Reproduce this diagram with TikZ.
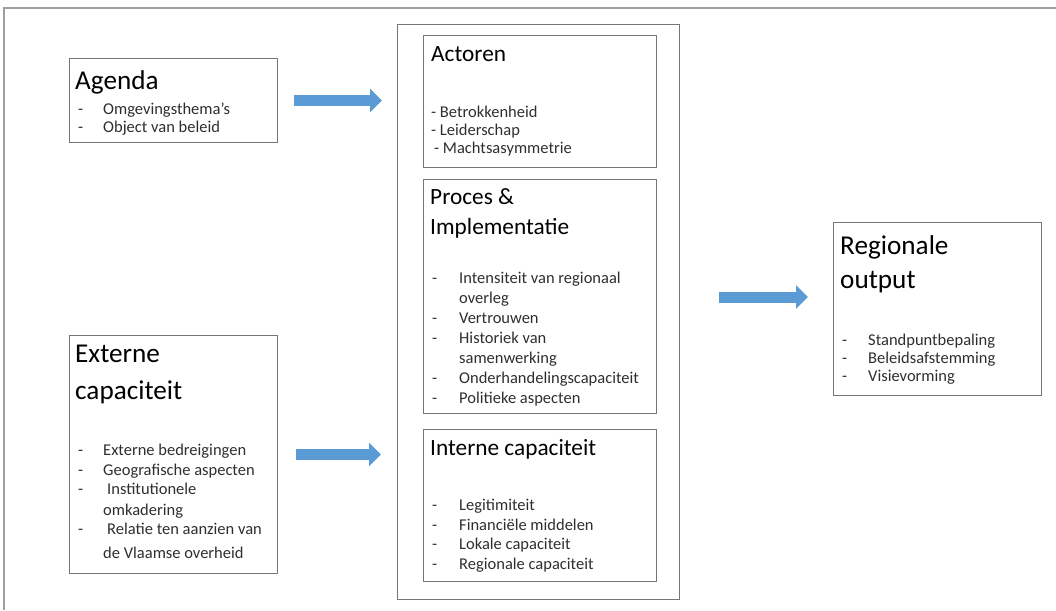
\documentclass[tikz,border=0pt]{standalone}
\usepackage{fontspec}
\setmainfont{Carlito}
\usetikzlibrary{arrows.meta}
\definecolor{pijlblauw}{HTML}{5B9BD5}
\definecolor{lijngrijs}{HTML}{767676}

\begin{document}
\begin{tikzpicture}[x=1pt, y=-1pt,
  kader/.style={draw=lijngrijs, line width=1pt, anchor=north west, inner sep=0pt},
  kop/.style={anchor=base west, inner sep=0pt, font=\fontsize{27.2}{33}\selectfont},
  kopm/.style={anchor=base west, inner sep=0pt, font=\fontsize{23.3}{28}\selectfont},
  item/.style={anchor=base west, inner sep=0pt, text=black!82, font=\fontsize{16.5}{19}\selectfont},
  pijl/.style={draw=pijlblauw, line width=11pt, -{Triangle[length=12pt, width=23pt]}}]
\useasboundingbox (0,0) rectangle (1056,610);

% outer frame (open to the right and bottom)
\draw[gray!75, line width=1.5pt] (4,610) -- (4,8) -- (1056,8);

% boxes
\node[kader, minimum width=208pt, minimum height=84pt] (agenda) at (69,58) {};
\node[kader, minimum width=208pt, minimum height=238pt] (extern) at (69,335) {};
\node[kader, minimum width=282pt, minimum height=575pt] (midden) at (397,24) {};
\node[kader, minimum width=233pt, minimum height=132pt] (actoren) at (423,35) {};
\node[kader, minimum width=233pt, minimum height=234pt] (proces) at (423,179) {};
\node[kader, minimum width=233pt, minimum height=152pt] (intern) at (423,429) {};
\node[kader, minimum width=208pt, minimum height=173pt] (regio) at (833,222) {};

% arrows
\draw[pijl, shorten <=16pt, shorten >=15pt] (agenda.east) -- (agenda.east -| midden.west);
\draw[pijl, shorten <=18pt, shorten >=16pt] (extern.east) -- (extern.east -| midden.west);
\draw[pijl, shorten <=39pt, shorten >=25pt] ([yshift=12pt]regio.west -| midden.east) -- ([yshift=12pt]regio.west);

% Agenda
\node[kop] (agenda-kop) at (75,89) {Agenda};
\foreach \y/\t [count=\i] in {114/Omgevingsthema’s, 132/Object van beleid} {
  \node[item] (agenda-s\i) at (78,\y) {-};
  \node[item] (agenda-t\i) at (103,\y) {\t};
}

% Externe capaciteit
\node[kop] (extern-kop1) at (75,362) {Externe};
\node[kop] (extern-kop2) at (75,399) {capaciteit};
\foreach \y [count=\i] in {455,475,494,534}
  \node[item] (extern-s\i) at (78,\y) {-};
\foreach \x/\y/\t [count=\i] in {103/455/Externe bedreigingen, 103/475/Geografische aspecten,
    107/494/Institutionele, 103/515/omkadering, 107/534/Relatie ten aanzien van,
    103/558/de Vlaamse overheid}
  \node[item] (extern-t\i) at (\x,\y) {\t};

% Actoren
\node[kopm] (actoren-kop) at (431,61) {Actoren};
\foreach \x/\y/\t [count=\i] in {431/117/- Betrokkenheid, 431/135/- Leiderschap,
    434/153.5/- Machtsasymmetrie}
  \node[item] (actoren-t\i) at (\x,\y) {\t};

% Proces & Implementatie
\node[kopm] (proces-kop1) at (430,204.5) {Proces \&};
\node[kopm] (proces-kop2) at (430,234) {Implementatie};
\foreach \y [count=\i] in {283,323,343,383,403}
  \node[item] (proces-s\i) at (432,\y) {-};
\foreach \t [count=\i] in {Intensiteit van regionaal, overleg, Vertrouwen, Historiek van,
    samenwerking, Onderhandelingscapaciteit, Politieke aspecten}
  \node[item] (proces-t\i) at (459,{283+20*(\i-1)}) {\t};

% Interne capaciteit
\node[kopm] (intern-kop) at (430,455) {Interne capaciteit};
\foreach \t [count=\i] in {Legitimiteit, Financiële middelen, Lokale capaciteit, Regionale capaciteit} {
  \node[item] (intern-s\i) at (432,{510.5+19.5*(\i-1)}) {-};
  \node[item] (intern-t\i) at (459,{510.5+19.5*(\i-1)}) {\t};
}

% Regionale output
\node[kop] (regio-kop1) at (840,254.5) {Regionale};
\node[kop] (regio-kop2) at (840,288) {output};
\foreach \y/\t [count=\i] in {345/Standpuntbepaling, 363/Beleidsafstemming, 381/Visievorming} {
  \node[item] (regio-s\i) at (842,\y) {-};
  \node[item] (regio-t\i) at (868,\y) {\t};
}
\end{tikzpicture}
\end{document}
